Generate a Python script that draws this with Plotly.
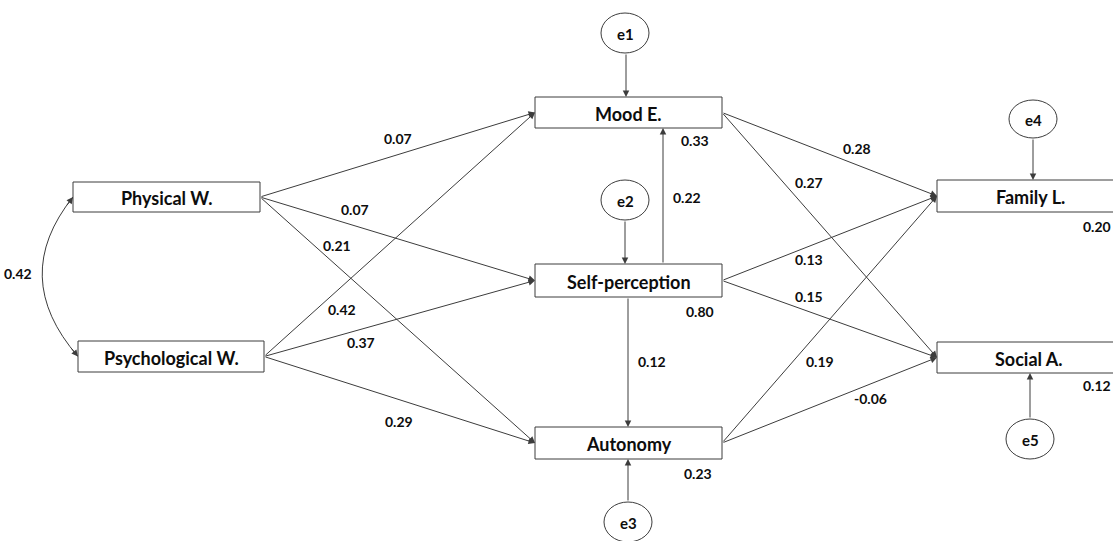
import plotly.graph_objects as go

# ---------------- data ----------------
node_names = ["Physical W.", "Psychological W.", "Mood E.", "Self-perception",
              "Autonomy", "Family L.", "Social A."]
error_names = ["e1", "e2", "e3", "e4", "e5"]
error_targets = ["Mood E.", "Self-perception", "Autonomy", "Family L.", "Social A."]

path_from = ["Physical W.", "Physical W.", "Physical W.",
             "Psychological W.", "Psychological W.", "Psychological W.",
             "Self-perception", "Self-perception",
             "Mood E.", "Mood E.", "Self-perception", "Self-perception",
             "Autonomy", "Autonomy"]
path_to = ["Mood E.", "Self-perception", "Autonomy",
           "Mood E.", "Self-perception", "Autonomy",
           "Mood E.", "Autonomy",
           "Family L.", "Social A.", "Family L.", "Social A.",
           "Family L.", "Social A."]
path_coef = ["0.07", "0.07", "0.21",
             "0.42", "0.37", "0.29",
             "0.22", "0.12",
             "0.28", "0.27", "0.13", "0.15",
             "0.19", "-0.06"]

r2_nodes = ["Mood E.", "Self-perception", "Autonomy", "Family L.", "Social A."]
r2_values = ["0.33", "0.80", "0.23", "0.20", "0.12"]

covariance_pair = ["Physical W.", "Psychological W."]
covariance_value = "0.42"

# ---------------- layout (pixel geometry) ----------------
W, H = 1113, 541
box = {  # x0, x1, y0, y1
    "Physical W.": (73, 260, 182, 212),
    "Psychological W.": (78, 264, 341, 372),
    "Mood E.": (535, 722, 97, 128),
    "Self-perception": (535, 722, 264, 297),
    "Autonomy": (535, 722, 427, 459),
    "Family L.": (937, 1130, 180, 212),
    "Social A.": (937, 1130, 342, 373),
}
text_x = {"Family L.": 1030, "Social A.": 1029}
ell = {  # cx, cy, rx, ry
    "e1": (625, 33, 24, 20),
    "e2": (625, 200, 24, 20),
    "e3": (628, 522, 24, 20),
    "e4": (1033, 119, 24, 19),
    "e5": (1030, 439, 24, 20),
}
err_x = {"e1": 626, "e2": 625, "e3": 628, "e4": 1033, "e5": 1030}
vertical_x = {("Self-perception", "Mood E."): 663, ("Self-perception", "Autonomy"): 628}
coef_pos = [(398, 138), (355, 209), (337, 245),
            (342, 309), (361, 342), (399, 421),
            (687, 197), (652, 361),
            (857, 148), (809, 182), (809, 259), (809, 296),
            (820, 361), (870, 398)]
r2_pos = {"Mood E.": (695, 140), "Self-perception": (700, 311), "Autonomy": (698, 473),
          "Family L.": (1097, 226), "Social A.": (1097, 385)}

LINE = "#3c3c3c"
FONT = "Lato"
TXT = "#0d0d0d"

fig = go.Figure()
shapes = []
annotations = []


def midy(n):
    b = box[n]
    return (b[2] + b[3]) / 2


def arrow(x0, y0, x1, y1):
    annotations.append(dict(x=x1, y=y1, ax=x0, ay=y0, xref="x", yref="y",
                            axref="x", ayref="y", text="", showarrow=True,
                            arrowhead=2, arrowsize=1.3, arrowwidth=1,
                            arrowcolor=LINE, standoff=0, startstandoff=0))


# path arrows
for f, t in zip(path_from, path_to):
    if (f, t) in vertical_x:
        vx = vertical_x[(f, t)]
        if box[t][2] < box[f][2]:
            arrow(vx, box[f][2], vx, box[t][3])
        else:
            arrow(vx, box[f][3], vx, box[t][2])
    else:
        arrow(box[f][1], midy(f), box[t][0], midy(t))

# error arrows
for e, t in zip(error_names, error_targets):
    cx, cy, rx, ry = ell[e]
    x = err_x[e]
    if cy < box[t][2]:
        arrow(x, cy + ry, x, box[t][2])
    else:
        arrow(x, cy - ry, x, box[t][3])

# covariance curve
a, b = covariance_pair
p0 = (box[a][0], midy(a))
p2 = (box[b][0], midy(b))
c = (9, 277)
shapes.append(dict(type="path", xref="x", yref="y",
                   path=f"M {p0[0]},{p0[1]} Q {c[0]},{c[1]} {p2[0]},{p2[1]}",
                   line=dict(color=LINE, width=1)))


def bez(t):
    return ((1 - t) ** 2 * p0[0] + 2 * (1 - t) * t * c[0] + t ** 2 * p2[0],
            (1 - t) ** 2 * p0[1] + 2 * (1 - t) * t * c[1] + t ** 2 * p2[1])


s = bez(0.06)
arrow(s[0], s[1], p0[0], p0[1])
s = bez(0.94)
arrow(s[0], s[1], p2[0], p2[1])
annotations.append(dict(x=18, y=273, xref="x", yref="y", text=covariance_value,
                        showarrow=False, font=dict(family=FONT, size=14, color=TXT, weight="bold")))

# boxes
for n in node_names:
    x0, x1, y0, y1 = box[n]
    shapes.append(dict(type="rect", xref="x", yref="y", x0=x0, x1=x1, y0=y0, y1=y1,
                       line=dict(color=LINE, width=1), fillcolor="white", layer="above"))
    annotations.append(dict(x=text_x.get(n, (x0 + x1) / 2), y=(y0 + y1) / 2 + 1, xref="x", yref="y",
                            text=n, showarrow=False,
                            font=dict(family=FONT, size=18, color=TXT, weight="bold")))

# error ellipses
for e in error_names:
    cx, cy, rx, ry = ell[e]
    shapes.append(dict(type="circle", xref="x", yref="y", x0=cx - rx, x1=cx + rx,
                       y0=cy - ry, y1=cy + ry, line=dict(color=LINE, width=1),
                       fillcolor="white", layer="above"))
    annotations.append(dict(x=cx, y=cy + 1, xref="x", yref="y", text=e, showarrow=False,
                            font=dict(family=FONT, size=15, color=TXT, weight="bold")))

# coefficient labels
for (x, y), v in zip(coef_pos, path_coef):
    annotations.append(dict(x=x, y=y, xref="x", yref="y", text=v, showarrow=False,
                            font=dict(family=FONT, size=14, color=TXT, weight="bold")))

# R2 labels
for n, v in zip(r2_nodes, r2_values):
    x, y = r2_pos[n]
    annotations.append(dict(x=x, y=y, xref="x", yref="y", text=v, showarrow=False,
                            font=dict(family=FONT, size=14, color=TXT, weight="bold")))

fig.update_layout(
    width=W, height=H, margin=dict(l=0, r=0, t=0, b=0),
    paper_bgcolor="white", plot_bgcolor="white",
    xaxis=dict(range=[0, W], visible=False, fixedrange=True),
    yaxis=dict(range=[H, 0], visible=False, fixedrange=True),
    shapes=shapes, annotations=annotations, showlegend=False,
)
fig.write_html("out.html", config={"displayModeBar": False},
               post_script="document.body.style.margin='0';document.body.style.overflow='hidden';")
